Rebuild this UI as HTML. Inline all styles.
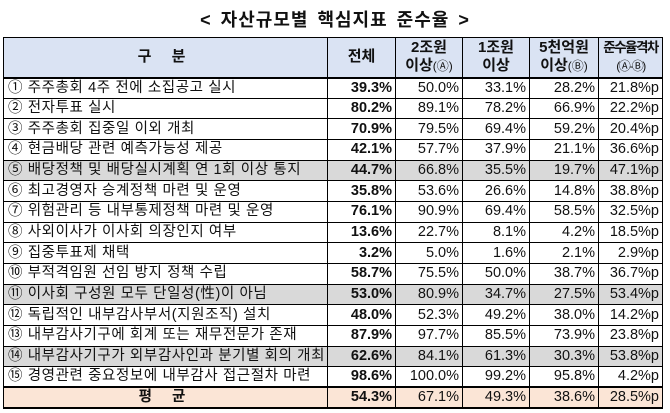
<!DOCTYPE html>
<html><head><meta charset="utf-8"><style>
body{margin:0;width:670px;height:413px;background:#fff;font-family:"Liberation Sans","Noto Sans CJK KR",sans-serif;overflow:hidden}
.t{position:absolute;left:0;top:6px;width:670px;text-align:center;font-size:18px;font-weight:bold;color:#111;letter-spacing:1px;word-spacing:3px}
table{position:absolute;left:3px;top:37px;border-collapse:collapse;table-layout:fixed;width:659px}
td{border:1px solid #000;font-size:14.5px;color:#111;padding:0 3px;white-space:nowrap;overflow:hidden;height:20.67px;line-height:19px;text-align:right;box-sizing:border-box}
tr td:nth-child(3),tr td:nth-child(4),tr td:nth-child(5),tr td:nth-child(6){border-left:1px dashed #999}
td:first-child{text-align:left;letter-spacing:0.6px;padding-left:4px}
td:nth-child(2){font-weight:bold;border-left:1px solid #000;border-right:1px solid #000}
tr.h td{background:#dae3f3;height:40px;text-align:center;font-weight:bold;line-height:18px;font-size:15px;border-bottom:2px solid #000;letter-spacing:0;padding:0 1px}
tr.h td small{font-weight:normal;font-size:12px}
tr.g td{background:#d9d9d9}
tr.a td{background:#fbe5d6;border-top:2px solid #000;border-bottom:2px solid #000}
tr.a td:first-child{text-align:center;font-weight:bold;letter-spacing:8px}
</style></head><body>
<div class="t">&lt; 자산규모별 핵심지표 준수율 &gt;</div>
<table>
<colgroup><col style="width:324px"><col style="width:68px"><col style="width:67px"><col style="width:67px"><col style="width:69px"><col style="width:64px"></colgroup>
<tr class="h"><td style="text-align:center;letter-spacing:8px">구 분</td><td>전체</td><td>2조원<br>이상<small>(Ⓐ)</small></td><td>1조원<br>이상</td><td>5천억원<br>이상<small>(Ⓑ)</small></td><td style="letter-spacing:-1.5px;font-size:13.5px">준수율격차<br><small>(Ⓐ-Ⓑ)</small></td></tr>
<tr><td>① 주주총회 4주 전에 소집공고 실시</td><td>39.3%</td><td>50.0%</td><td>33.1%</td><td>28.2%</td><td>21.8%p</td></tr>
<tr><td>② 전자투표 실시</td><td>80.2%</td><td>89.1%</td><td>78.2%</td><td>66.9%</td><td>22.2%p</td></tr>
<tr><td>③ 주주총회 집중일 이외 개최</td><td>70.9%</td><td>79.5%</td><td>69.4%</td><td>59.2%</td><td>20.4%p</td></tr>
<tr><td>④ 현금배당 관련 예측가능성 제공</td><td>42.1%</td><td>57.7%</td><td>37.9%</td><td>21.1%</td><td>36.6%p</td></tr>
<tr class="g"><td>⑤ 배당정책 및 배당실시계획 연 1회 이상 통지</td><td>44.7%</td><td>66.8%</td><td>35.5%</td><td>19.7%</td><td>47.1%p</td></tr>
<tr><td>⑥ 최고경영자 승계정책 마련 및 운영</td><td>35.8%</td><td>53.6%</td><td>26.6%</td><td>14.8%</td><td>38.8%p</td></tr>
<tr><td>⑦ 위험관리 등 내부통제정책 마련 및 운영</td><td>76.1%</td><td>90.9%</td><td>69.4%</td><td>58.5%</td><td>32.5%p</td></tr>
<tr><td>⑧ 사외이사가 이사회 의장인지 여부</td><td>13.6%</td><td>22.7%</td><td>8.1%</td><td>4.2%</td><td>18.5%p</td></tr>
<tr><td>⑨ 집중투표제 채택</td><td>3.2%</td><td>5.0%</td><td>1.6%</td><td>2.1%</td><td>2.9%p</td></tr>
<tr><td>⑩ 부적격임원 선임 방지 정책 수립</td><td>58.7%</td><td>75.5%</td><td>50.0%</td><td>38.7%</td><td>36.7%p</td></tr>
<tr class="g"><td>⑪ 이사회 구성원 모두 단일성(性)이 아님</td><td>53.0%</td><td>80.9%</td><td>34.7%</td><td>27.5%</td><td>53.4%p</td></tr>
<tr><td>⑫ 독립적인 내부감사부서(지원조직) 설치</td><td>48.0%</td><td>52.3%</td><td>49.2%</td><td>38.0%</td><td>14.2%p</td></tr>
<tr><td>⑬ 내부감사기구에 회계 또는 재무전문가 존재</td><td>87.9%</td><td>97.7%</td><td>85.5%</td><td>73.9%</td><td>23.8%p</td></tr>
<tr class="g"><td>⑭ 내부감사기구가 외부감사인과 분기별 회의 개최</td><td>62.6%</td><td>84.1%</td><td>61.3%</td><td>30.3%</td><td>53.8%p</td></tr>
<tr><td>⑮ 경영관련 중요정보에 내부감사 접근절차 마련</td><td>98.6%</td><td>100.0%</td><td>99.2%</td><td>95.8%</td><td>4.2%p</td></tr>
<tr class="a"><td>평 균</td><td>54.3%</td><td>67.1%</td><td>49.3%</td><td>38.6%</td><td>28.5%p</td></tr>
</table>
</body></html>
